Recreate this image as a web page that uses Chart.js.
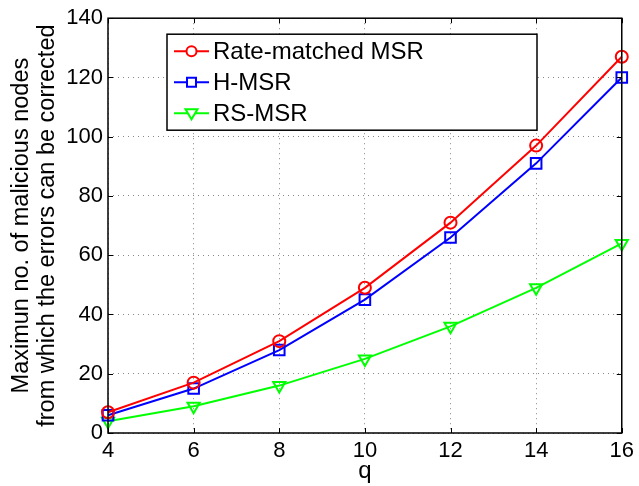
<!DOCTYPE html>
<html>
<head>
<meta charset="utf-8">
<script src="https://cdn.jsdelivr.net/npm/chart.js@4"></script>
<style>
  html, body { margin: 0; padding: 0; background: #fff; }
  #wrap { width: 639px; height: 486px; }
</style>
</head>
<body>
<div id="wrap"><canvas id="c" width="639" height="486"></canvas></div>
<script>
// q values on the horizontal axis
const qValues = [4, 6, 8, 10, 12, 14, 16];
// Maximum number of malicious nodes that can be corrected, per scheme
const rateMatched = [7, 17, 31, 49, 71, 97, 127];
const hMsr = [6, 15, 28, 45, 66, 91, 120];
const rsMsr = [4, 9, 16, 25, 36, 49, 64];
const seriesNames = ['Rate-matched MSR', 'H-MSR', 'RS-MSR'];
const xTicks = [4, 6, 8, 10, 12, 14, 16];
const yTicks = [0, 20, 40, 60, 80, 100, 120, 140];

const FONT = 'Liberation Sans, Arial, Helvetica, sans-serif';

function toPoints(vals) {
  return vals.map((v, i) => ({ x: qValues[i], y: v }));
}

// Frame around the plot area with inward tick marks
const framePlugin = {
  id: 'frame',
  afterDatasetsDraw(chart) {
    const { ctx, chartArea: a, scales } = chart;
    ctx.save();
    ctx.strokeStyle = '#000';
    ctx.lineWidth = 1.5;
    ctx.strokeRect(a.left, a.top, a.right - a.left, a.bottom - a.top);
    ctx.lineWidth = 1;
    ctx.beginPath();
    xTicks.forEach(t => {
      const x = Math.round(scales.x.getPixelForValue(t)) + 0.5;
      ctx.moveTo(x, a.bottom); ctx.lineTo(x, a.bottom - 5);
      ctx.moveTo(x, a.top); ctx.lineTo(x, a.top + 5);
    });
    yTicks.forEach(t => {
      const y = Math.round(scales.y.getPixelForValue(t)) + 0.5;
      ctx.moveTo(a.left, y); ctx.lineTo(a.left + 5, y);
      ctx.moveTo(a.right, y); ctx.lineTo(a.right - 5, y);
    });
    ctx.stroke();
    ctx.restore();
  }
};

// Boxed legend with a line segment and marker for each series
const legendPlugin = {
  id: 'boxLegend',
  afterDraw(chart) {
    const { ctx, chartArea: a } = chart;
    const left = a.left + 59, top = a.top + 16;
    const w = 370, h = 96;
    ctx.save();
    ctx.fillStyle = '#fff';
    ctx.fillRect(left, top, w, h);
    ctx.strokeStyle = '#000';
    ctx.lineWidth = 1.5;
    ctx.strokeRect(left, top, w, h);
    ctx.font = '24px ' + FONT;
    ctx.textBaseline = 'middle';
    chart.data.datasets.forEach((ds, i) => {
      const y = top + 17 + i * 31;
      const x0 = left + 7, x1 = left + 42, xm = (x0 + x1) / 2;
      ctx.strokeStyle = ds.borderColor;
      ctx.lineWidth = 2;
      ctx.beginPath(); ctx.moveTo(x0, y); ctx.lineTo(x1, y); ctx.stroke();
      ctx.beginPath();
      if (ds.pointStyle === 'circle') {
        ctx.arc(xm, y, 5, 0, Math.PI * 2);
      } else if (ds.pointStyle === 'rect') {
        ctx.rect(xm - 4.5, y - 4.5, 9, 9);
      } else {
        ctx.moveTo(xm - 6, y - 4); ctx.lineTo(xm + 6, y - 4); ctx.lineTo(xm, y + 6); ctx.closePath();
      }
      ctx.fillStyle = '#fff';
      ctx.fill();
      ctx.stroke();
      ctx.fillStyle = '#000';
      ctx.fillText(ds.label, left + 46, y + 1);
    });
    ctx.restore();
  }
};

new Chart(document.getElementById('c'), {
  type: 'line',
  data: {
    datasets: [
      { label: seriesNames[0], data: toPoints(rateMatched), borderColor: '#ff0000',
        pointStyle: 'circle', pointRadius: 6 },
      { label: seriesNames[1], data: toPoints(hMsr), borderColor: '#0000ff',
        pointStyle: 'rect', pointRadius: 7.5 },
      { label: seriesNames[2], data: toPoints(rsMsr), borderColor: '#00ff00',
        pointStyle: 'triangle', pointRotation: 180, pointRadius: 7 }
    ].map(d => Object.assign({
      borderWidth: 2, pointBorderWidth: 2, pointBackgroundColor: 'rgba(0,0,0,0)',
      pointBorderColor: d.borderColor, tension: 0, fill: false, clip: false
    }, d))
  },
  options: {
    responsive: false,
    animation: false,
    layout: { padding: { left: 0, right: 14, top: 16, bottom: 0 } },
    plugins: { legend: { display: false }, tooltip: { enabled: false } },
    scales: {
      x: {
        type: 'linear', min: 4, max: 16,
        afterBuildTicks: s => { s.ticks = xTicks.map(v => ({ value: v })); },
        ticks: { color: '#000', font: { family: FONT, size: 22 }, padding: 5, maxRotation: 0 },
        grid: { color: '#888', lineWidth: 1, drawTicks: false },
        border: { display: false, dash: [1, 4] },
        title: { display: true, text: 'q', color: '#000', font: { family: FONT, size: 24 }, padding: { top: 0, bottom: 0 } },
        afterFit: s => { s.height = 53; }
      },
      y: {
        min: 0, max: 140,
        afterBuildTicks: s => { s.ticks = yTicks.map(v => ({ value: v })); },
        ticks: { color: '#000', font: { family: FONT, size: 22 }, padding: 5 },
        grid: { color: '#888', lineWidth: 1, drawTicks: false },
        border: { display: false, dash: [1, 4] },
        title: { display: true, text: ['Maximun no. of malicious nodes', 'from which the errors can be corrected'],
                 color: '#000', font: { family: FONT, size: 23.5, lineHeight: 1.12 }, padding: { top: 8, bottom: 0 } },
        afterFit: s => { s.width = 108; }
      }
    }
  },
  plugins: [framePlugin, legendPlugin]
});
</script>
</body>
</html>
